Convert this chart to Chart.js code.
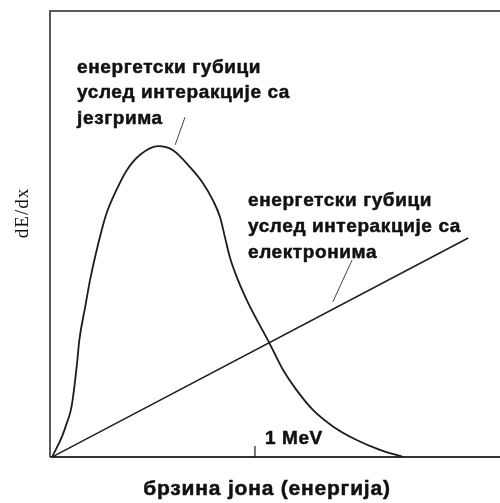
<!DOCTYPE html>
<html>
<head>
<meta charset="utf-8">
<script src="https://cdn.jsdelivr.net/npm/chart.js@4"></script>
<style>
  html, body { margin: 0; padding: 0; background: #fff; }
  #wrap { width: 500px; height: 503px; position: relative; }
</style>
</head>
<body>
<div id="wrap"><canvas id="chart"></canvas></div>
<script>
// energy loss curves, arbitrary units (0..100 on both axes)
const nuclearX = [0, 2.2, 3.3, 4.2, 4.7, 5.6, 6.1, 7.4, 8.5, 9.6, 11.1, 12.2, 14.4, 16.7, 19.6, 23.7,
  27.0, 30.8, 33.7, 35.9, 37.5, 38.6, 39.7, 41.5, 43.8, 48.5, 51.6, 54.6, 58.3, 62.8, 68.0, 73.2, 78.4]
const nuclearY = [0, 4.5, 7.6, 10.5, 13.5, 21.1, 26.2, 33.6, 39.7, 44.8, 50.9, 54.7, 59.9, 64.3, 67.7, 69.7,
  68.8, 65.0, 61.4, 57.6, 53.8, 49.3, 44.8, 39.7, 34.5, 25.6, 19.5, 15.0, 10.5, 6.8, 3.8, 1.6, 0]
const electronX = [0, 92.9]
const electronY = [0, 49.1]

const meVTick = 45.3
const meVLabel = '1 MeV'
const xTitle = 'брзина јона (енергија)'
const yTitle = 'dE/dx'
const nuclearLabel = ['енергетски губици', 'услед интеракције са', 'језгрима']
const electronLabel = ['енергетски губици', 'услед интеракције са', 'електронима']

const toPoints = (xs, ys) => xs.map((x, i) => ({x: x, y: ys[i]}))

const ink = '#1c1c1c'
const labelFont = 'bold 19px "Liberation Sans", Arial, sans-serif'

const decor = {
  id: 'decor',
  beforeDatasetsDraw(chart) {
    const {ctx, chartArea: a} = chart
    ctx.save()
    ctx.strokeStyle = '#5a5a5a'
    ctx.lineWidth = 2
    ctx.beginPath()
    ctx.moveTo(a.left - 2, a.bottom)
    ctx.lineTo(a.left - 2, a.top)
    ctx.lineTo(a.right, a.top)
    ctx.stroke()
    ctx.strokeStyle = '#333'
    ctx.beginPath()
    ctx.moveTo(a.left - 2, a.bottom)
    ctx.lineTo(a.right, a.bottom)
    ctx.stroke()
    ctx.restore()
  },
  afterDatasetsDraw(chart) {
    const {ctx, scales: {x, y}, chartArea: a} = chart
    ctx.save()
    // 1 MeV tick
    const tx = x.getPixelForValue(meVTick)
    ctx.strokeStyle = ink
    ctx.lineWidth = 1.2
    ctx.beginPath()
    ctx.moveTo(tx, a.bottom)
    ctx.lineTo(tx, a.bottom - 11)
    ctx.stroke()

    // leader lines
    const leader = (x1, y1, x2, y2) => {
      ctx.beginPath()
      ctx.moveTo(x.getPixelForValue(x1), y.getPixelForValue(y1))
      ctx.lineTo(x.getPixelForValue(x2), y.getPixelForValue(y2))
      ctx.stroke()
    }
    ctx.strokeStyle = '#444'
    ctx.lineWidth = 1
    leader(29.7, 76.2, 27.5, 70.0)
    leader(67.0, 44.2, 62.7, 34.8)

    // text, slightly emboldened like the scanned original
    ctx.fillStyle = '#111'
    ctx.strokeStyle = '#111'
    ctx.lineWidth = 0.5
    const text = (t, px, py) => {
      ctx.fillText(t, px, py)
      ctx.strokeText(t, px, py)
    }
    ctx.font = labelFont
    ctx.letterSpacing = '0.6px'
    ctx.textAlign = 'left'
    ctx.textBaseline = 'alphabetic'
    const block = (lines, lx, ys) => {
      lines.forEach((t, i) => text(t, x.getPixelForValue(lx), y.getPixelForValue(ys[i])))
    }
    block(nuclearLabel, 5.6, [86.1, 80.5, 74.7])
    block(electronLabel, 43.75, [56.3, 50.4, 44.6])

    text(meVLabel, tx + 10, a.bottom - 13)

    ctx.font = 'bold 21px "Liberation Sans", Arial, sans-serif'
    ctx.letterSpacing = '0.8px'
    ctx.textAlign = 'center'
    text(xTitle, 267, 495)

    ctx.font = '19px "Liberation Serif", "Times New Roman", serif'
    ctx.letterSpacing = '1px'
    ctx.translate(23, 213)
    ctx.rotate(-Math.PI / 2)
    ctx.textBaseline = 'middle'
    ctx.fillText(yTitle, 0, 0)
    ctx.restore()
  }
}

new Chart(document.getElementById('chart'), {
  type: 'scatter',
  data: {
    datasets: [{
      label: 'nuclear',
      data: toPoints(nuclearX, nuclearY),
      showLine: true,
      borderColor: ink,
      borderWidth: 1.8,
      pointRadius: 0,
      cubicInterpolationMode: 'monotone'
    }, {
      label: 'electronic',
      data: toPoints(electronX, electronY),
      showLine: true,
      borderColor: ink,
      borderWidth: 1.5,
      pointRadius: 0,
      tension: 0
    }]
  },
  options: {
    responsive: true,
    maintainAspectRatio: false,
    animation: false,
    layout: {padding: {left: 52, top: 11, right: 0, bottom: 46}},
    plugins: {legend: {display: false}, tooltip: {enabled: false}},
    scales: {
      x: {type: 'linear', min: 0, max: 100, display: false},
      y: {min: 0, max: 100, display: false}
    }
  },
  plugins: [decor]
})
</script>
</body>
</html>
